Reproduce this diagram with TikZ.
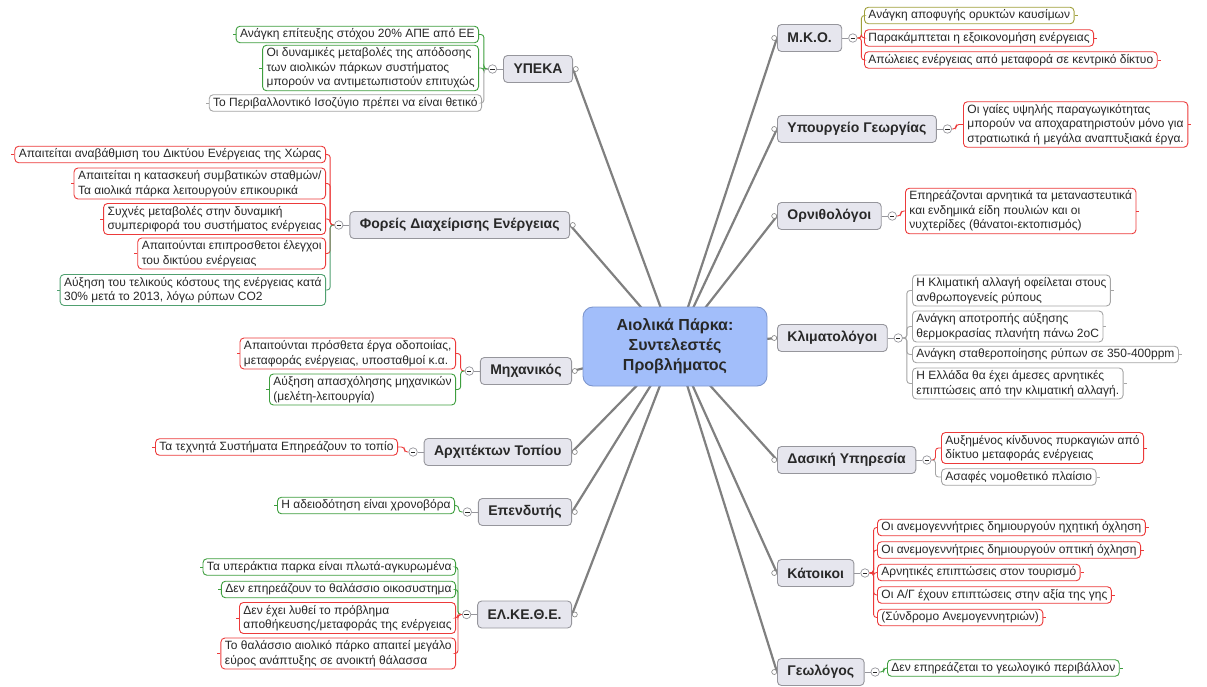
\documentclass[tikz,border=0pt]{standalone}
\usepackage{fontspec}
\setmainfont{Liberation Sans}
\usetikzlibrary{positioning,backgrounds}
\definecolor{lred}{RGB}{236,58,58}
\definecolor{lgreen}{RGB}{62,158,62}
\definecolor{lgray}{RGB}{165,165,165}
\definecolor{lolive}{RGB}{160,160,60}
\definecolor{lteal}{RGB}{80,160,112}
\definecolor{mainfill}{RGB}{230,230,238}
\definecolor{mainline}{RGB}{150,150,156}
\definecolor{hubfill}{RGB}{162,190,250}
\definecolor{hubline}{RGB}{125,150,205}
\definecolor{branchc}{RGB}{128,128,128}
\definecolor{txt}{RGB}{40,40,40}
\tikzset{
  leaf/.style={draw=#1, line width=0.9pt, rounded corners=4pt, fill=white, align=left,
    inner xsep=4pt, inner ysep=2.5pt, text=txt, font=\fontsize{12}{14.5}\selectfont},
  leafr/.style={leaf=#1, anchor=west,
    append after command={(\tikzlastnode.east) edge[draw=#1, line width=0.9pt] +(3,0)}},
  leafl/.style={leaf=#1, anchor=east,
    append after command={(\tikzlastnode.west) edge[draw=#1, line width=0.9pt] +(-3,0)}},
  topic/.style={draw=mainline, fill=mainfill, line width=0.9pt, rounded corners=4pt,
    text=txt, font=\fontsize{14}{16}\selectfont\bfseries, inner xsep=10pt, minimum height=27pt},
  hub/.style={draw=hubline, fill=hubfill, line width=0.9pt, rounded corners=10pt, align=center,
    text=txt, font=\fontsize{16}{20}\selectfont\bfseries, minimum width=184pt, minimum height=79pt},
  fold/.style={circle, draw=mainline, fill=white, line width=0.7pt, minimum size=8.5pt, inner sep=0pt,
    path picture={\draw[line width=0.7pt,txt] ([xshift=-2.2pt]path picture bounding box.center)
      -- ([xshift=2.2pt]path picture bounding box.center);}},
  knob/.style={circle, draw=branchc, fill=white, line width=0.6pt, minimum size=5pt, inner sep=0pt},
  branch/.style={draw=branchc, line width=2.2pt},
  conn/.style={draw=#1, line width=0.9pt, rounded corners=3pt},
}
\begin{document}
\begin{tikzpicture}[x=1pt,y=-1pt]
\useasboundingbox (0,0) rectangle (1207,687);

\node[hub] (hub) at (675,346.5) {Αιολικά Πάρκα:\\Συντελεστές\\Προβλήματος};

% left side
\node[topic, anchor=east] (ypeka) at (573,69) {ΥΠΕΚΑ};
\node[topic, anchor=east] (foreis) at (570,225) {Φορείς Διαχείρισης Ενέργειας};
\node[topic, anchor=east] (mixan) at (572,371) {Μηχανικός};
\node[topic, anchor=east] (arxit) at (572,452) {Αρχιτέκτων Τοπίου};
\node[topic, anchor=east] (ependy) at (572,512) {Επενδυτής};
\node[topic, anchor=east] (elkethe) at (572,614.5) {ΕΛ.ΚΕ.Θ.Ε.};

% right side
\node[topic, anchor=west] (mko) at (777,38) {Μ.Κ.Ο.};
\node[topic, anchor=west] (ypourg) at (777,129) {Υπουργείο Γεωργίας};
\node[topic, anchor=west] (ornith) at (777,216) {Ορνιθολόγοι};
\node[topic, anchor=west] (klima) at (777,338) {Κλιματολόγοι};
\node[topic, anchor=west] (dasiki) at (777,460) {Δασική Υπηρεσία};
\node[topic, anchor=west] (katoik) at (777,573) {Κάτοικοι};
\node[topic, anchor=west] (geolog) at (777,672) {Γεωλόγος};

\foreach \t in {ypeka,foreis,mixan,arxit,ependy,elkethe}{
  \node[fold, left=6pt of \t] (\t-f) {};
  \draw[mainline, line width=0.7pt] (\t) -- (\t-f);
}
\foreach \t in {mko,ypourg,ornith,klima,dasiki,katoik,geolog}{
  \node[fold, right=6pt of \t] (\t-f) {};
  \draw[mainline, line width=0.7pt] (\t) -- (\t-f);
}
\begin{scope}[on background layer]
\foreach \t in {ypeka,foreis,mixan,arxit,ependy,elkethe}
  \draw[branch] (hub.center) -- (\t.east) node[knob, anchor=west] {};
\foreach \t in {mko,ypourg,ornith,klima,dasiki,katoik,geolog}
  \draw[branch] (hub.center) -- (\t.west) node[knob, anchor=east] {};
\end{scope}

% leaves, left
\node[leafl=lgreen] (ypeka1) at (479,34.5) {Ανάγκη επίτευξης στόχου 20\% ΑΠΕ από ΕΕ};
\node[leafl=lgreen] (ypeka2) at (479,68) {Οι δυναμικές μεταβολές της απόδοσης\\των αιολικών πάρκων συστήματος\\μπορούν να αντιμετωπιστούν επιτυχώς};
\node[leafl=lgray] (ypeka3) at (482,103) {Το Περιβαλλοντικό Ισοζύγιο πρέπει να είναι θετικό};

\node[leafl=lred] (foreis1) at (326,154.5) {Απαιτείται αναβάθμιση του Δικτύου Ενέργειας της Χώρας};
\node[leafl=lred] (foreis2) at (326,183.5) {Απαιτείται η κατασκευή συμβατικών σταθμών/\\Τα αιολικά πάρκα λειτουργούν επικουρικά};
\node[leafl=lred] (foreis3) at (326,219) {Συχνές μεταβολές στην δυναμική\\συμπεριφορά του συστήματος ενέργειας};
\node[leafl=lred] (foreis4) at (326,253.5) {Απαιτούνται επιπροσθετοι έλεγχοι\\του δικτύου ενέργειας};
\node[leafl=lteal] (foreis5) at (326,290) {Αύξηση του τελικούς κόστους της ενέργειας κατά\\30\% μετά το 2013, λόγω ρύπων CO2};

\node[leafl=lred] (mixan1) at (456,353.5) {Απαιτούνται πρόσθετα έργα οδοποιίας,\\μεταφοράς ενέργειας, υποσταθμοί κ.α.};
\node[leafl=lgreen] (mixan2) at (456,389.5) {Αύξηση απασχόλησης μηχανικών\\(μελέτη-λειτουργία)};

\node[leafl=lred] (arxit1) at (398,447) {Τα τεχνητά Συστήματα Επηρεάζουν το τοπίο};

\node[leafl=lgreen] (ependy1) at (455,505.5) {Η αδειοδότηση είναι χρονοβόρα};

\node[leafl=lgreen] (elkethe1) at (456,567) {Τα υπεράκτια παρκα είναι πλωτά-αγκυρωμένα};
\node[leafl=lgreen] (elkethe2) at (456,589.5) {Δεν επηρεάζουν το θαλάσσιο οικοσυστημα};
\node[leafl=lred] (elkethe3) at (456,618) {Δεν έχει λυθεί το πρόβλημα\\αποθήκευσης/μεταφοράς της ενέργειας};
\node[leafl=lred] (elkethe4) at (456,653.5) {Το θαλάσσιο αιολικό πάρκο απαιτεί μεγάλο\\εύρος ανάπτυξης σε ανοικτή θάλασσα};

% leaves, right
\node[leafr=lolive] (mko1) at (864,15.5) {Ανάγκη αποφυγής ορυκτών καυσίμων};
\node[leafr=lred] (mko2) at (864,38) {Παρακάμπτεται η εξοικονομήση ενέργειας};
\node[leafr=lred] (mko3) at (864,60) {Απώλειες ενέργειας από μεταφορά σε κεντρικό δίκτυο};

\node[leafr=lred] (ypourg1) at (963,124.5) {Οι γαίες υψηλής παραγωγικότητας\\μπορούν να αποχαρατηριστούν μόνο για\\στρατιωτικά ή μεγάλα αναπτυξιακά έργα.};

\node[leafr=lred] (ornith1) at (905,211) {Επηρεάζονται αρνητικά τα μεταναστευτικά\\και ενδημικά είδη πουλιών και οι\\νυχτερίδες (θάνατοι-εκτοπισμός)};

\node[leafr=lgray] (klima1) at (912,290.5) {Η Κλιματική αλλαγή οφείλεται στους\\ανθρωπογενείς ρύπους};
\node[leafr=lgray] (klima2) at (912,326.5) {Ανάγκη αποτροπής αύξησης\\θερμοκρασίας πλανήτη πάνω 2oC};
\node[leafr=lgray] (klima3) at (912,354.5) {Ανάγκη σταθεροποίησης ρύπων σε 350-400ppm};
\node[leafr=lgray] (klima4) at (912,383.5) {Η Ελλάδα θα έχει άμεσες αρνητικές\\επιπτώσεις από την κλιματική αλλαγή.};

\node[leafr=lred] (dasiki1) at (941,448) {Αυξημένος κίνδυνος πυρκαγιών από\\δίκτυο μεταφοράς ενέργειας};
\node[leafr=lgray] (dasiki2) at (941,477) {Ασαφές νομοθετικό πλαίσιο};

\node[leafr=lred] (katoik1) at (877,527.5) {Οι ανεμογεννήτριες δημιουργούν ηχητική όχληση};
\node[leafr=lred] (katoik2) at (877,550) {Οι ανεμογεννήτριες δημιουργούν οπτική όχληση};
\node[leafr=lred] (katoik3) at (877,572.5) {Αρνητικές επιπτώσεις στον τουρισμό};
\node[leafr=lred] (katoik4) at (877,595) {Οι Α/Γ έχουν επιπτώσεις στην αξία της γης};
\node[leafr=lred] (katoik5) at (877,617.5) {(Σύνδρομο Ανεμογεννητριών)};

\node[leafr=lgreen] (geolog1) at (887,668) {Δεν επηρεάζεται το γεωλογικό περιβάλλον};

% brackets
\foreach \l/\c/\t in {ypeka1/lgreen/ypeka, ypeka2/lgreen/ypeka, ypeka3/lgray/ypeka,
    foreis1/lred/foreis, foreis2/lred/foreis, foreis3/lred/foreis, foreis4/lred/foreis, foreis5/lteal/foreis,
    mixan1/lred/mixan, mixan2/lgreen/mixan, arxit1/lred/arxit, ependy1/lgreen/ependy,
    elkethe1/lgreen/elkethe, elkethe2/lgreen/elkethe, elkethe3/lred/elkethe, elkethe4/lred/elkethe}
  \draw[conn=\c] (\t-f.west) -- ++(-4,0) |- (\l.east);
\foreach \l/\c/\t in {mko1/lolive/mko, mko2/lred/mko, mko3/lred/mko, ypourg1/lred/ypourg, ornith1/lred/ornith,
    klima1/lgray/klima, klima2/lgray/klima, klima3/lgray/klima, klima4/lgray/klima,
    dasiki1/lred/dasiki, dasiki2/lgray/dasiki,
    katoik1/lred/katoik, katoik2/lred/katoik, katoik3/lred/katoik, katoik4/lred/katoik, katoik5/lred/katoik,
    geolog1/lgreen/geolog}
  \draw[conn=\c] (\t-f.east) -- ++(4,0) |- (\l.west);
\end{tikzpicture}
\end{document}
